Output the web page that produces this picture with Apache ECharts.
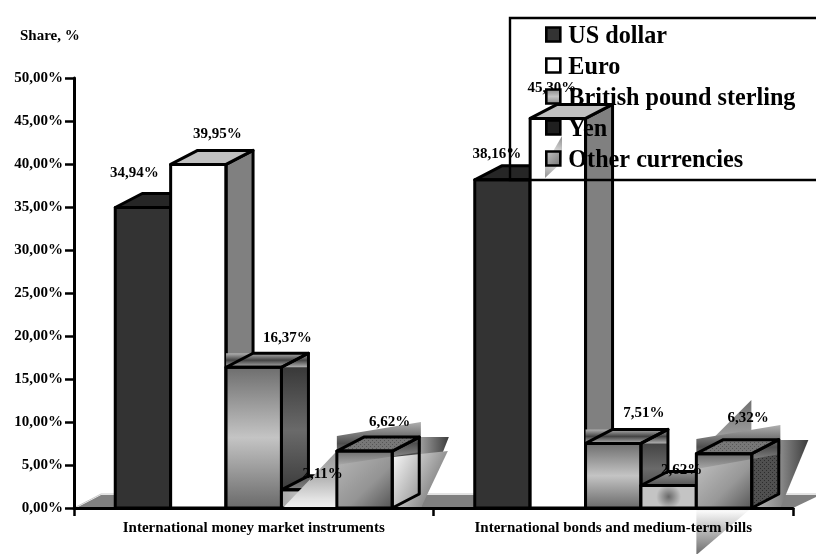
<!DOCTYPE html>
<html>
<head>
<meta charset="utf-8">
<style>html,body{margin:0;padding:0;background:#fff}#c{width:816px;height:554px}</style>
<script src="https://cdn.jsdelivr.net/npm/echarts@6/dist/echarts.min.js"></script>
</head>
<body>
<div id="c"></div>
<script>
const categories = ['International money market instruments', 'International bonds and medium-term bills'];
const seriesNames = ['US dollar', 'Euro', 'British pound sterling', 'Yen', 'Other currencies'];
const usDollar = [34.94, 38.16];
const euro = [39.95, 45.30];
const poundSterling = [16.37, 7.51];
const yen = [2.11, 2.62];
const otherCurrencies = [6.62, 6.32];
const allValues = [usDollar, euro, poundSterling, yen, otherCurrencies];

const FONT = '"Liberation Serif", serif';
const BAR_W = 55.4, DX = 27, DY = 14, LINE = 3;

const lin = (x, y, x2, y2, stops) => ({
  type: 'linear', x, y, x2, y2,
  colorStops: stops.map(s => ({ offset: s[0], color: s[1] }))
});
const vert = stops => lin(0, 0, 0, 1, stops);
const horz = stops => lin(0, 0, 1, 0, stops);
const diag = stops => lin(0, 0, 1, 1, stops);

function dots(bg, fg) {
  const c = document.createElement('canvas');
  c.width = 4; c.height = 4;
  const x = c.getContext('2d');
  x.fillStyle = bg; x.fillRect(0, 0, 4, 4);
  x.fillStyle = fg; x.fillRect(0, 0, 1, 1); x.fillRect(2, 2, 1, 1);
  return { image: c, repeat: 'repeat' };
}

const poundFront = vert([[0, '#6e6e6e'], [0.5, '#c4c4c4'], [1, '#6a6a6a']]);
const poundSide = vert([[0, '#2e2e2e'], [0.5, '#6a6a6a'], [1, '#2e2e2e']]);
const poundBand = vert([[0, '#b0b0b0'], [0.5, '#444'], [1, '#b0b0b0']]);

const looks = [
  { front: ['#333333', '#333333'], top: ['#262626', '#262626'], side: ['#1a1a1a', '#1a1a1a'] },
  { front: ['#ffffff', '#ffffff'], top: ['#c0c0c0', '#c0c0c0'], side: ['#808080', '#808080'] },
  { front: [poundFront, poundFront], top: [null, null], side: [poundSide, poundSide], band: poundBand },
  { front: [horz([[0, '#a8a8a8'], [0.6, '#cfcfcf'], [1, '#f4f4f4']]),
            { type: 'radial', x: 0.5, y: 0.5, r: 0.55, colorStops: [{ offset: 0, color: '#686868' }, { offset: 1, color: '#c4c4c4' }] }],
    top: [vert([[0, '#555'], [1, '#888']]), vert([[0, '#999'], [1, '#4c4c4c']])],
    side: ['#333', '#333'] },
  { front: [diag([[0, '#b8b8b8'], [0.6, '#949494'], [1, '#555']]), diag([[0, '#c4c4c4'], [0.6, '#989898'], [1, '#585858']])],
    top: [dots('#777777', '#555555'), dots('#777777', '#555555')],
    side: ['#4a4a4a', dots('#505050', '#2c2c2c')] }
];

// offsets of the stray gradient shapes on the "Other currencies" boxes, [dx from left of box, dy from base]
const behindOther = [
  [ { pts: [[-54, 0], [0, -57], [0, 0]], fill: vert([[0, '#999999'], [0.5, '#b8b8b8'], [0.85, '#e4e4e4'], [1, '#f0f0f0']]) },
    { pts: [[56, 0], [84, -71], [112, -71], [84, 0]], fill: horz([[0, '#d4d4d4'], [0.5, '#9c9c9c'], [1, '#3c3c3c']]) } ],
  [ { pts: [[0, -53], [55, -108], [55, 0], [0, 47]], fill: vert([[0, '#707070'], [0.4, '#bdbdbd'], [0.72, '#f8f8f8'], [1, '#6c6c6c']]) },
    { pts: [[56, 0], [84, -68], [112, -68], [84, 0]], fill: horz([[0, '#bbb'], [0.5, '#8a8a8a'], [1, '#3c3c3c']]) } ]
];
const overOther = [
  [ { pts: [[56, -51], [111, -57], [84, 0], [56, 0]], fill: lin(0, 0, 1, 0.5, [[0, '#fafafa'], [0.55, '#b4b4b4'], [1, '#777']]) },
    { pts: [[0, -72], [84, -86], [84, -56], [0, -43]], fill: vert([[0, '#b0b0b0'], [0.5, '#4e4e4e'], [1, '#a8a8a8']]) } ],
  [ { pts: [[0, -69], [84, -83], [84, -54], [0, -39]], fill: vert([[0, '#b0b0b0'], [0.5, '#4e4e4e'], [1, '#a8a8a8']]) } ]
];

// label anchors relative to the centre of each box's front top edge (labels were dragged by hand in the original)
const labelShift = [
  [[-8.5, -34], [-5.5, -26]],
  [[19, -30], [-6, -30]],
  [[33.5, -29], [30.5, -30]],
  [[13.5, -16], [13, -15]],
  [[25, -29], [24, -36]]
];

function poly(pts, style, extra) {
  return Object.assign({ type: 'polygon', shape: { points: pts }, style }, extra || {});
}

function makeRender(slot) {
  return function (params, api) {
    const g = api.value(0);
    const v = api.value(1);
    const t = api.coord([g, v]);
    const b = api.coord([g, 0]);
    const x0 = t[0] + (slot - 2.5) * BAR_W;
    const x1 = x0 + BAR_W;
    const yT = t[1], yB = b[1];
    const look = looks[slot];
    const stroke = { stroke: '#000', lineWidth: LINE, lineJoin: 'round' };
    const kids = [];
    const shape = s => poly(s.pts.map(p => [x0 + p[0], yB + p[1]]), { fill: s.fill });
    if (slot === 4) behindOther[g].forEach(s => kids.push(shape(s)));
    const sidePts = [[x1, yT], [x1 + DX, yT - DY], [x1 + DX, yB - DY], [x1, yB]];
    const topPts = [[x0, yT], [x0 + DX, yT - DY], [x1 + DX, yT - DY], [x1, yT]];
    const frontPts = [[x0, yT], [x1, yT], [x1, yB], [x0, yB]];
    kids.push(poly(frontPts, { fill: look.front[g] }));
    kids.push(poly(sidePts, { fill: look.side[g] }));
    if (slot === 4) overOther[g].forEach(s => kids.push(shape(s)));
    if (look.band) {
      kids.push(poly([[x0, yT - DY], [x1 + DX, yT - DY], [x1 + DX, yT], [x0, yT]], { fill: look.band }));
    }
    kids.push(poly(sidePts, Object.assign({ fill: 'none' }, stroke)));
    kids.push(poly(topPts, Object.assign({ fill: look.top[g] || 'none' }, stroke)));
    kids.push(poly(frontPts, Object.assign({ fill: 'none' }, stroke)));
    const s = labelShift[slot][g];
    kids.push({
      type: 'text', z2: 100,
      style: {
        x: (x0 + x1) / 2 + s[0], y: yT + s[1],
        text: v.toFixed(2).replace('.', ',') + '%',
        fill: '#000', font: 'bold 15px ' + FONT, align: 'center', verticalAlign: 'middle'
      }
    });
    return { type: 'group', children: kids };
  };
}

function renderFloor(params) {
  const c = params.coordSys;
  const yB = c.y + c.height;
  return {
    type: 'group',
    children: [
      poly([[c.x + 2, yB], [c.x + DX, yB - 13], [c.x + c.width + DX, yB - 13], [c.x + c.width, yB]], { fill: '#808080' }),
      { type: 'polyline', shape: { points: [[c.x + 2, yB - 1], [c.x + DX, yB - 14], [c.x + c.width + DX, yB - 14]] }, style: { stroke: '#c8c8c8', lineWidth: 1, fill: 'none' } }
    ]
  };
}

const legendLooks = [
  { color: '#333333' },
  { color: '#ffffff' },
  { color: vert([[0, '#808080'], [0.5, '#c4c4c4'], [1, '#808080']]) },
  { color: '#1f1f1f' },
  { color: diag([[0, '#c8c8c8'], [1, '#707070']]) }
];

const series = [{
  type: 'custom', name: 'floor', z: 1, silent: true, renderItem: renderFloor,
  data: [[0, 0]], encode: { x: 0, y: 1 }
}].concat(seriesNames.map((name, i) => ({
  type: 'custom', name, z: 2, animation: false,
  renderItem: makeRender(i),
  encode: { x: 0, y: 1 },
  data: allValues[i].map((v, g) => [g, v])
})));

const chart = echarts.init(document.getElementById('c'), null, { renderer: 'canvas' });
chart.setOption({
  animation: false,
  backgroundColor: '#ffffff',
  title: {
    text: 'Share, %', left: 20, top: 29, padding: 0,
    textStyle: { fontFamily: FONT, fontSize: 15, fontWeight: 'bold', color: '#000' }
  },
  legend: {
    show: true, orient: 'vertical', left: 510, top: 18,
    padding: [7, 420, 7, 35], z: 6,
    itemWidth: 14, itemHeight: 14, itemGap: 7,
    borderColor: '#000', borderWidth: 2.4, backgroundColor: 'transparent',
    formatter: n => '{a|' + n + '}',
    textStyle: {
      rich: { a: { fontFamily: FONT, fontSize: 24.2, fontWeight: 'bold', color: '#000', padding: [5, 0, 0, 3] } }
    },
    selectedMode: false,
    data: seriesNames.map((name, i) => ({
      name, icon: 'rect',
      itemStyle: { color: legendLooks[i].color, borderColor: '#000', borderWidth: 2.6 }
    }))
  },
  grid: { left: 74, top: 78, right: 23, bottom: 46, containLabel: false },
  xAxis: {
    type: 'category', data: categories, z: 3,
    axisLine: { lineStyle: { color: '#000', width: 3 } },
    axisTick: { show: true, interval: 0, length: 8, lineStyle: { color: '#000', width: 2.5 } },
    axisLabel: { color: '#000', interval: 0, hideOverlap: false, fontFamily: FONT, fontSize: 15, fontWeight: 'bold', margin: 13 },
    splitLine: { show: false }
  },
  yAxis: {
    type: 'value', min: 0, max: 50, interval: 5, z: 3,
    axisLine: { show: true, lineStyle: { color: '#000', width: 3 } },
    axisTick: { show: true, length: 9, lineStyle: { color: '#000', width: 2.5 } },
    axisLabel: {
      color: '#000', fontFamily: FONT, fontSize: 15, fontWeight: 'bold', margin: 11,
      formatter: v => v.toFixed(2).replace('.', ',') + '%'
    },
    splitLine: { show: false }
  },
  graphic: [{
    type: 'polygon', z: 3, silent: true,
    shape: { points: [[545, 165], [562, 136], [562, 162], [545, 178]] },
    style: { fill: lin(1, 0, 0, 1, [[0, '#8c8c8c'], [0.5, '#f4f4f4'], [1, '#909090']]) }
  }],
  series
});
</script>
</body>
</html>
